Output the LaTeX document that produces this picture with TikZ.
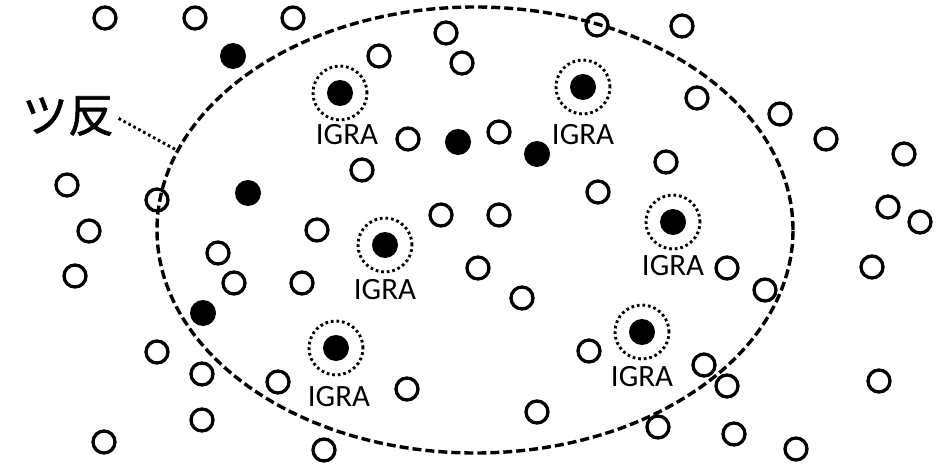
\documentclass[tikz,border=0pt]{standalone}
\usepackage{fontspec}
\setmainfont{Carlito}
\newfontfamily\jpfont[FakeBold=1.2]{Noto Sans CJK JP}
\usetikzlibrary{shapes.geometric}

\begin{document}
\begin{tikzpicture}[x=1pt,y=-1pt,
    openspot/.style={circle,draw,line width=3.3pt,minimum size=22pt,inner sep=0pt},
    fullspot/.style={circle,fill,minimum size=26pt,inner sep=0pt},
    halo/.style={circle,draw,line width=2.9pt,dash pattern=on 2.7pt off 2.9pt,minimum size=54pt,inner sep=0pt},
    igra/.style={font=\fontsize{31}{31}\selectfont,inner sep=0pt}]
    \useasboundingbox (0,0) rectangle (942,468);
    % reaction zone
    \node [draw,ellipse,line width=3.4pt,dash pattern=on 9pt off 4pt,minimum width=636pt,minimum height=446pt,inner sep=0pt] (zone) at (475,230) {};
    \node [font=\jpfont\fontsize{46}{46}\selectfont,inner sep=0pt] (zonetext) at (68,116) {ツ反};
    \draw [line width=2.9pt,dash pattern=on 2.7pt off 2.9pt,shorten <=5pt] (zonetext.east) -- (zone.165);
    % open cells
    \foreach \x/\y [count=\i] in {105/18,195/18,293/18,446/33,379/56,462/63,597/25,682/26,697/98,780/114,
        826/139,904/154,666/162,598/192,499/132,408/139,362/170,67/185,157/200,89/231,
        75/276,218/253,234/283,302/283,317/230,441/215,499/215,478/268,522/298,727/268,
        765/290,888/207,920/222,872/267,157/352,202/374,278/382,202/420,104/442,324/450,
        407/389,537/412,589/351,704/365,727/386,879/381,658/427,734/434,796/449}
    {
    \node [openspot] (o\i) at (\x,\y) {};
    }
    % filled cells
    \foreach \x/\y [count=\i] in {233/56,248/193,458/142,537/154,203/313}
    {
    \node [fullspot] (f\i) at (\x,\y) {};
    }
    % IGRA positive cells
    \foreach \x/\y/\tx/\ty [count=\i] in {340/93/347/135,583/87/583/135,385/245/385/290,
        673/222/673/266,336/348/339/397,642/332/642/377}
    {
    \node [fullspot] (g\i) at (\x,\y) {};
    \node [halo] (h\i) at (g\i) {};
    \node [igra] (t\i) at (\tx,\ty) {IGRA};
    }
\end{tikzpicture}
\end{document}
